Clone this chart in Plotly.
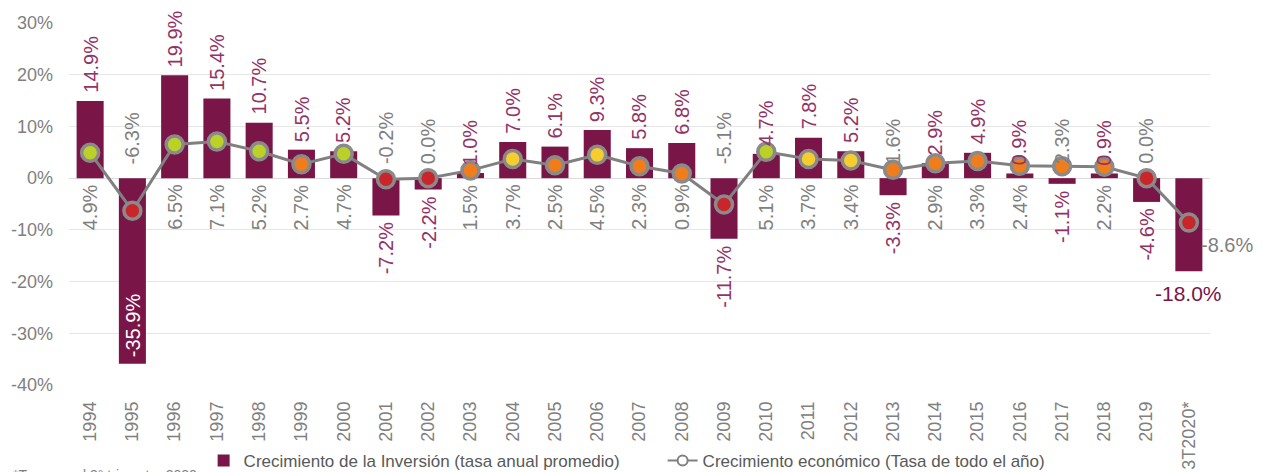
import plotly.graph_objects as go

categories = ["1994", "1995", "1996", "1997", "1998", "1999", "2000", "2001", "2002",
              "2003", "2004", "2005", "2006", "2007", "2008", "2009", "2010", "2011",
              "2012", "2013", "2014", "2015", "2016", "2017", "2018", "2019", "3T2020*"]
inversion = [14.9, -35.9, 19.9, 15.4, 10.7, 5.5, 5.2, -7.2, -2.2, 1.0, 7.0, 6.1, 9.3, 5.8,
             6.8, -11.7, 4.7, 7.8, 5.2, -3.3, 2.9, 4.9, 0.9, -1.1, 0.9, -4.6, -18.0]
pib = [4.9, -6.3, 6.5, 7.1, 5.2, 2.7, 4.7, -0.2, 0.0, 1.5, 3.7, 2.5, 4.5, 2.3, 0.9, -5.1,
       5.1, 3.7, 3.4, 1.6, 2.9, 3.3, 2.4, 2.3, 2.2, 0.0, -8.6]
y_ticks = [-40, -30, -20, -10, 0, 10, 20, 30]

BAR = "#7a1548"
LBL = "#933365"
GRAY = "#808080"
FONT = "Liberation Sans"


def point_color(v):
    if v <= 0:
        return "#c8262a"
    if v < 3.4:
        return "#f07d1c"
    if v < 4.6:
        return "#f6cd2e"
    return "#bcd128"


fig = go.Figure()
fig.add_trace(go.Bar(
    x=categories, y=inversion, marker=dict(color=BAR, line=dict(width=0)),
    name="Crecimiento de la Inversión (tasa anual promedio)",
))
fig.add_trace(go.Scatter(
    x=categories, y=pib, mode="lines+markers", showlegend=False,
    line=dict(color=GRAY, width=3),
    marker=dict(size=17, color=[point_color(v) for v in pib],
                line=dict(color="#8a8a8a", width=3.5)),
))
fig.add_trace(go.Scatter(
    x=[None], y=[None], mode="lines+markers",
    name="Crecimiento económico (Tasa de todo el año)",
    line=dict(color=GRAY, width=2),
    marker=dict(size=10, color="white", line=dict(color=GRAY, width=2)),
))

annotations = []
last = len(categories) - 1
for i, (v, g) in enumerate(zip(inversion, pib)):
    txt_v = f"{v:.1f}%"
    txt_g = f"{g:.1f}%"
    if i == last:
        annotations.append(dict(x=i, y=v, text=txt_v, showarrow=False, yanchor="top",
                                yshift=-9, font=dict(size=21, color=BAR, family=FONT)))
        annotations.append(dict(x=i, y=g, text=txt_g, showarrow=False, xanchor="left",
                                yanchor="middle", xshift=10, yshift=-22,
                                font=dict(size=20, color=GRAY, family=FONT)))
        continue
    if v < -30:
        annotations.append(dict(x=i, y=v, text=txt_v, showarrow=False, textangle=-90,
                                yanchor="bottom", yshift=5,
                                font=dict(size=20, color="white", family=FONT)))
    elif v >= 0:
        annotations.append(dict(x=i, y=v, text=txt_v, showarrow=False, textangle=-90,
                                yanchor="bottom", yshift=6,
                                font=dict(size=20, color=LBL, family=FONT)))
    else:
        annotations.append(dict(x=i, y=v, text=txt_v, showarrow=False, textangle=-90,
                                yanchor="top", yshift=-5,
                                font=dict(size=20, color=LBL, family=FONT)))
    if v >= 0:
        annotations.append(dict(x=i, y=0, text=txt_g, showarrow=False, textangle=-90,
                                yanchor="top", yshift=-4,
                                font=dict(size=20, color=GRAY, family=FONT)))
    else:
        annotations.append(dict(x=i, y=0, text=txt_g, showarrow=False, textangle=-90,
                                yanchor="bottom", yshift=12,
                                font=dict(size=20, color=GRAY, family=FONT)))

annotations.append(dict(xref="paper", yref="paper", x=-0.051, y=-0.221,
                        xanchor="left", yanchor="top", showarrow=False,
                        text="*Tasa anual 3° trimestre 2020",
                        font=dict(size=14, color=GRAY, family=FONT)))

fig.update_layout(
    width=1254, height=464,
    margin=dict(l=61, r=52, t=15, b=87, autoexpand=False),
    plot_bgcolor="white", paper_bgcolor="white",
    bargap=0.36,
    font=dict(family=FONT, color=GRAY),
    showlegend=True,
    legend=dict(orientation="h", xref="container", yref="container",
                x=0.156, y=0.0237, xanchor="left", yanchor="middle",
                font=dict(size=17, color="#595959", family=FONT),
                bgcolor="rgba(0,0,0,0)",
                itemwidth=30, traceorder="normal", entrywidth=414),
    annotations=annotations,
)
fig.update_xaxes(type="category", range=[-0.5, len(categories) - 0.5], tickangle=-90,
                 tickfont=dict(size=18, color=GRAY, family=FONT),
                 showgrid=False, showline=False, ticks="", automargin=False,
                 ticklabelstandoff=12)
fig.update_yaxes(range=[-40, 30], tickvals=y_ticks,
                 ticktext=[f"{t}%" for t in y_ticks],
                 tickfont=dict(size=18, color=GRAY, family=FONT),
                 showgrid=True, gridcolor="#e6e6e6", gridwidth=1,
                 zeroline=True, zerolinecolor="#dcdcdc", zerolinewidth=1,
                 showline=False, ticks="", automargin=False, ticklabelstandoff=15)

fig.write_html("out.html")
